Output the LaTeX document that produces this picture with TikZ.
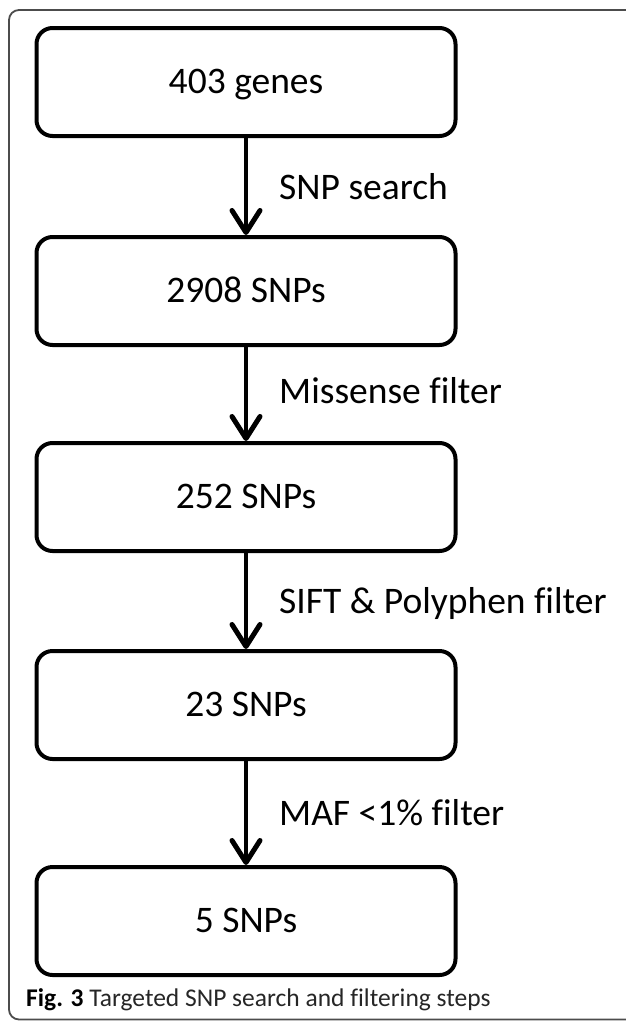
\documentclass[tikz,border=0pt]{standalone}
\usepackage{fontspec}
\setmainfont{Carlito}[Ligatures=NoCommon]
\usetikzlibrary{arrows.meta}
\begin{document}
\begin{tikzpicture}[x=1pt,y=-1pt,
  stepbox/.style={draw=black, line width=4pt, rounded corners=16pt,
    minimum width=419pt, minimum height=108pt, inner sep=0pt,
    text height=23.5pt, text depth=0pt, font=\fontsize{37.5}{42}\selectfont},
  flow/.style={line width=4.5pt, -{Straight Barb[length=22pt,width=28pt,round,line width=5pt]}},
  lab/.style={anchor=base west, inner sep=0pt, font=\fontsize{37.5}{42}\selectfont},
  frame/.style={draw=black!70, line width=1.8pt, rounded corners=10pt}
]
\useasboundingbox (0,0) rectangle (625,1021);
\draw[frame] (640,10) -- (9,10) -- (9,1019.5) -- (640,1019.5);
\node[stepbox] (b1) at (246,82) {403 genes};
\node[stepbox] (b2) at (246,291) {2908 SNPs};
\node[stepbox] (b3) at (246,497) {252 SNPs};
\node[stepbox] (b4) at (246,705) {23 SNPs};
\node[stepbox] (b5) at (246,921) {5 SNPs};
\draw[flow] (b1) -- (b2);
\draw[flow] (b2) -- (b3);
\draw[flow] (b3) -- (b4);
\draw[flow] (b4) -- (b5);
\node[lab] (l1) at (279,199) {SNP search};
\node[lab] (l2) at (279,403) {Missense filter};
\node[lab] (l3) at (279,613) {SIFT \& Polyphen filter};
\node[lab] (l4) at (279,825) {MAF <1\% filter};
\node[anchor=base west, inner sep=0pt, text=black!85, font=\fontsize{25.5}{30}\selectfont] (cap) at (26,1006)
  {\textcolor{black}{\textbf{Fig. 3}} Targeted SNP search and filtering steps};
\end{tikzpicture}
\end{document}
